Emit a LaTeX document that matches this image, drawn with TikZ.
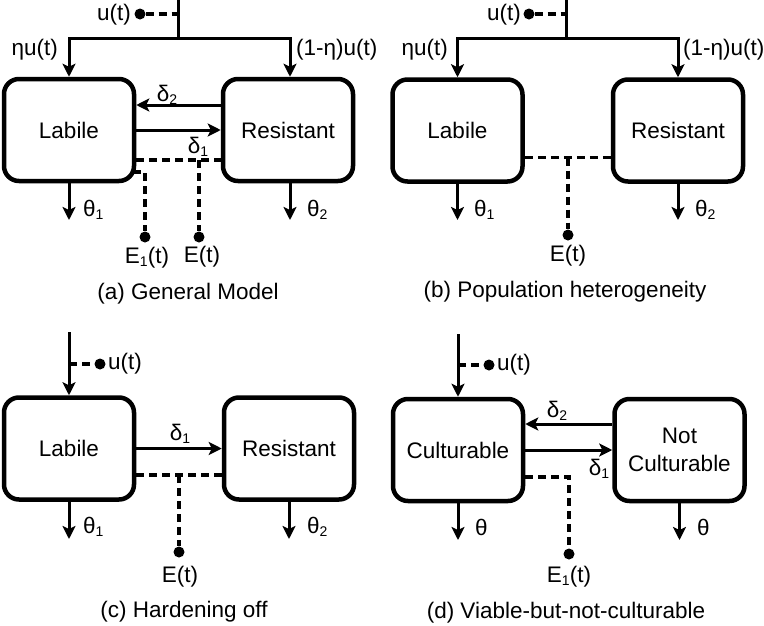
\documentclass[tikz,border=0pt]{standalone}
\usepackage{fontspec}
\setmainfont{Liberation Sans}
\usetikzlibrary{arrows.meta}
\newcommand\sbx[1]{\raisebox{-0.25ex}{\fontsize{14}{14}\selectfont #1}}
\begin{document}
\begin{tikzpicture}[x=1pt,y=-1pt,
  font=\fontsize{22.5}{28.5}\selectfont,
  box/.style={draw,line width=4.5pt,rounded corners=15pt,minimum width=130pt,minimum height=102pt,align=center,inner sep=0pt},
  flow/.style={line width=3pt,-{Stealth[length=13pt,width=13pt,inset=3pt]}},
  plain/.style={line width=3pt},
  dsh/.style={line width=3.3pt,dash pattern=on 8pt off 5pt},
  dot/.style={circle,fill,inner sep=0pt,minimum size=11pt},
  lbl/.style={inner sep=0pt}]
\useasboundingbox (0,0) rectangle (764,625);

% ---------------- (a) General Model ----------------
\node[box] (aL) at (69,130) {Labile};
\node[box] (aR) at (288,130) {Resistant};
\coordinate (aT) at (178,0);
\coordinate (aJ) at (178,38);
\draw[plain] (aT) -- (aJ);
\draw[flow] (aJ) -| (aL.north);
\draw[flow] (aJ) -| ([xshift=2pt]aR.north);
\node[dot] (aU) at (140,14) {};
\draw[dsh] (aU) -- (aU -| aT);
\node[lbl,anchor=east] (aUl) at (131,15) {u(t)};
\node[lbl,anchor=east] (aEta) at (58,50) {ηu(t)};
\node[lbl,anchor=west] (aEta2) at (296,50) {(1-η)u(t)};
\draw[flow] ([yshift=25pt]aR.west) -- ([yshift=25pt]aL.east);
\node[lbl] (aD2) at (167,95) {δ\sbx{2}};
\draw[flow] (aL.east) -- (aR.west);
\node[lbl] (aD1) at (198,147) {δ\sbx{1}};
\draw[dsh] ([yshift=-30pt]aL.east) -- ([yshift=-30pt]aR.west);
\coordinate (aEj) at (199,160);
\node[dot] (aE) at (199,237) {};
\draw[dsh] (aEj) -- (aE);
\node[dot] (aE1) at (145,237) {};
\draw[dsh] ([xshift=-3pt,yshift=-42pt]aL.east) -| (aE1);
\node[lbl] (aE1l) at (147,258) {E\sbx{1}(t)};
\node[lbl] (aEl) at (202,257) {E(t)};
\coordinate (aO1) at (69,220);
\coordinate (aO2) at (290,220);
\draw[flow] (aL.south) -- (aO1);
\draw[flow] ([xshift=2pt]aR.south) -- (aO2);
\node[lbl,anchor=west] (aTh1) at (83,210) {θ\sbx{1}};
\node[lbl,anchor=west] (aTh2) at (307,210) {θ\sbx{2}};
\node[lbl] (aCap) at (188,294) {(a) General Model};

% ---------------- (b) Population heterogeneity ----------------
\node[box] (bL) at (457.5,130.5) {Labile};
\node[box] (bR) at (678,130.5) {Resistant};
\coordinate (bT) at (566,0);
\coordinate (bJ) at (566,38);
\draw[plain] (bT) -- (bJ);
\draw[flow] (bJ) -| (bL.north);
\draw[flow] (bJ) -| (bR.north);
\node[dot] (bU) at (529,14) {};
\draw[dsh] (bU) -- (bU -| bT);
\node[lbl,anchor=east] (bUl) at (521,15) {u(t)};
\node[lbl,anchor=east] (bEta) at (448,50) {ηu(t)};
\node[lbl,anchor=west] (bEta2) at (683,50) {(1-η)u(t)};
\draw[dsh] ([yshift=-27pt]bL.east) -- ([yshift=-27pt]bR.west);
\coordinate (bEj) at (568,157.5);
\node[dot] (bE) at (568,235) {};
\draw[dsh] (bEj) -- (bE);
\node[lbl] (bEl) at (568,256) {E(t)};
\coordinate (bO1) at (457.5,220);
\coordinate (bO2) at (678,220);
\draw[flow] (bL.south) -- (bO1);
\draw[flow] (bR.south) -- (bO2);
\node[lbl,anchor=west] (bTh1) at (474,210) {θ\sbx{1}};
\node[lbl,anchor=west] (bTh2) at (695,210) {θ\sbx{2}};
\node[lbl] (bCap) at (565,292) {(b) Population heterogeneity};

% ---------------- (c) Hardening off ----------------
\node[box] (cL) at (69,448.5) {Labile};
\node[box] (cR) at (289,448.5) {Resistant};
\coordinate (cT) at (69,332);
\draw[flow] (cT) -- (cL.north);
\coordinate (cJ) at (69,364);
\node[dot] (cU) at (100,364) {};
\draw[dsh] (cJ) -- (cU);
\node[lbl,anchor=west] (cUl) at (108,364) {u(t)};
\draw[flow] (cL.east) -- (cR.west);
\node[lbl] (cD1) at (180,434) {δ\sbx{1}};
\draw[dsh] ([yshift=-26.5pt]cL.east) -- ([yshift=-26.5pt]cR.west);
\coordinate (cEj) at (179,475);
\node[dot] (cE) at (179,552) {};
\draw[dsh] (cEj) -- (cE);
\node[lbl] (cEl) at (180,577) {E(t)};
\coordinate (cO1) at (69,539);
\coordinate (cO2) at (289,539);
\draw[flow] (cL.south) -- (cO1);
\draw[flow] (cR.south) -- (cO2);
\node[lbl,anchor=west] (cTh1) at (83,527) {θ\sbx{1}};
\node[lbl,anchor=west] (cTh2) at (307,527) {θ\sbx{2}};
\node[lbl] (cCap) at (184,612) {(c) Hardening off};

% ---------------- (d) Viable-but-not-culturable ----------------
\node[box] (dL) at (458,450) {Culturable};
\node[box] (dR) at (679.5,450) {Not\\Culturable};
\coordinate (dT) at (458,334);
\draw[flow] (dT) -- (dL.north);
\coordinate (dJ) at (458,365);
\node[dot] (dU) at (489,365) {};
\draw[dsh] (dJ) -- (dU);
\node[lbl,anchor=west] (dUl) at (497,365) {u(t)};
\draw[flow] ([yshift=26pt]dR.west) -- ([yshift=26pt]dL.east);
\node[lbl] (dD2) at (557,411) {δ\sbx{2}};
\draw[flow] (dL.east) -- (dR.west);
\node[lbl] (dD1) at (599,469) {δ\sbx{1}};
\node[dot] (dE1) at (569,554) {};
\draw[dsh] ([yshift=-27pt]dL.east) -| (dE1);
\node[lbl] (dE1l) at (569,577) {E\sbx{1}(t)};
\coordinate (dO1) at (458,540);
\coordinate (dO2) at (679.5,540);
\draw[flow] (dL.south) -- (dO1);
\draw[flow] (dR.south) -- (dO2);
\node[lbl,anchor=west] (dTh1) at (475,527) {θ};
\node[lbl,anchor=west] (dTh2) at (697,527) {θ};
\node[lbl] (dCap) at (566,613) {(d) Viable-but-not-culturable};
\end{tikzpicture}
\end{document}
